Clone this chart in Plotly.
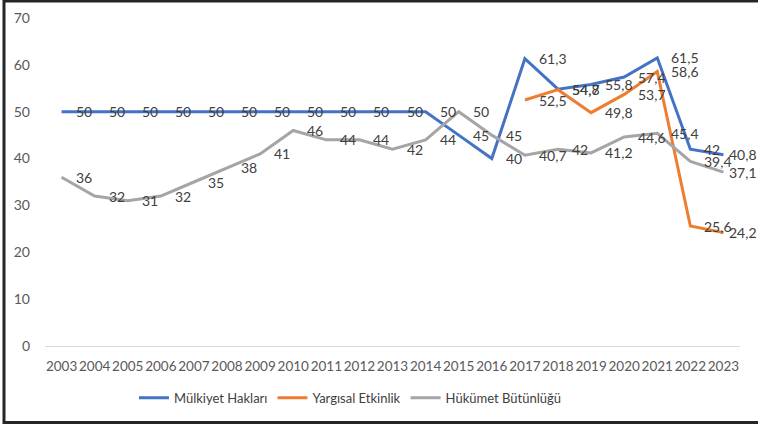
import plotly.graph_objects as go

years = [str(y) for y in range(2003, 2024)]
mulkiyet = [50, 50, 50, 50, 50, 50, 50, 50, 50, 50, 50, 50, 45, 40, 61.3, 54.8, 55.8, 57.4, 61.5, 42, 40.8]
yargisal = [None] * 14 + [52.5, 54.7, 49.8, 53.7, 58.6, 25.6, 24.2]
hukumet = [36, 32, 31, 32, 35, 38, 41, 46, 44, 44, 42, 44, 50, 45, 40.7, 42, 41.2, 44.6, 45.4, 39.4, 37.1]

series = [
    ("Mülkiyet Hakları", mulkiyet, "#4472C4"),
    ("Yargısal Etkinlik", yargisal, "#ED7D31"),
    ("Hükümet Bütünlüğü", hukumet, "#A5A5A5"),
]

FONT = "Lato"
fig = go.Figure()
annotations = []
xs = list(range(len(years)))
for name, vals, color in series:
    fig.add_trace(go.Scatter(
        x=xs, y=vals, name=name, mode="lines",
        line=dict(color=color, width=3), connectgaps=False,
    ))
    for x, v in zip(xs, vals):
        if v is None:
            continue
        txt = (f"{v:g}").replace(".", ",")
        annotations.append(dict(
            x=x, y=v, xref="x", yref="y", text=txt, showarrow=False,
            xanchor="left", yanchor="middle",
            xshift=4 if x == xs[-1] else 12,
            font=dict(family=FONT, size=14, color="#404040"),
        ))

fig.update_layout(
    width=758, height=426, autosize=False,
    margin=dict(l=45, r=18, t=18, b=80, autoexpand=False),
    paper_bgcolor="white", plot_bgcolor="white",
    showlegend=True,
    legend=dict(orientation="h", x=0.128, xanchor="left", y=-0.158, yanchor="middle",
                font=dict(family=FONT, size=13, color="#404040"),
                itemwidth=30, traceorder="normal"),
    annotations=annotations,
    xaxis=dict(
        tickmode="array", tickvals=xs, ticktext=years, range=[-0.5, 20.5],
        showgrid=False, zeroline=False, showline=True, linecolor="#D9D9D9", linewidth=1,
        ticks="", tickangle=0, automargin=False, ticklabelstandoff=8,
        tickfont=dict(family=FONT, size=13.5, color="#595959"),
    ),
    yaxis=dict(
        range=[0, 70], tickvals=[0, 10, 20, 30, 40, 50, 60, 70],
        showgrid=False, zeroline=False, showline=False, ticks="",
        ticklabelstandoff=14, automargin=False,
        tickfont=dict(family=FONT, size=14, color="#595959"),
    ),
    shapes=[dict(
        type="rect", xref="paper", yref="paper",
        x0=-0.059, x1=1.2, y0=-0.233, y1=1.052,
        line=dict(color="#262626", width=3), fillcolor="rgba(0,0,0,0)", layer="above",
    )],
)

fig.write_html(
    "out.html",
    config={"displayModeBar": False},
    post_script="document.body.style.margin='0';document.body.style.overflow='hidden';",
)
